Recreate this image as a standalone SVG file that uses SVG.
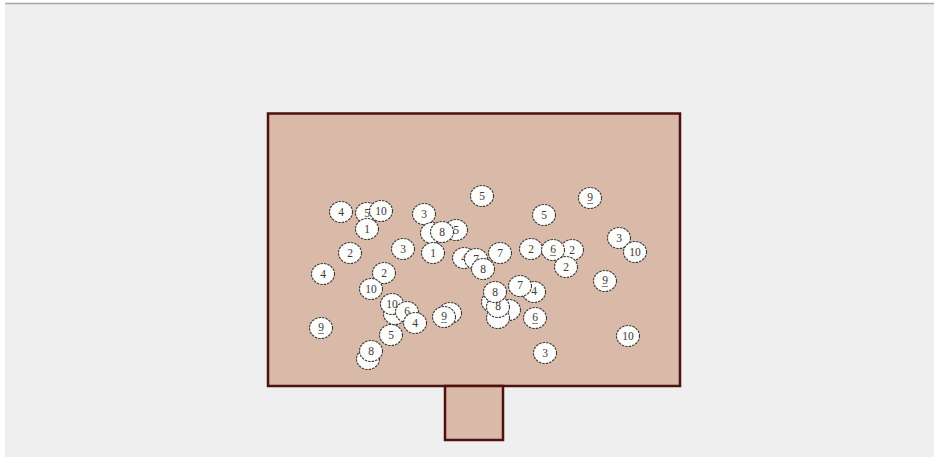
<svg xmlns="http://www.w3.org/2000/svg" width="934" height="457" viewBox="0 0 934 457">
<style>
.d ellipse{fill:#fdfdfb;stroke:#3a3a3a;stroke-width:1.1;stroke-dasharray:2.5 1}
.d text{font-family:"Liberation Serif","DejaVu Serif",serif;font-size:11.5px;fill:#3a3a3a;text-anchor:middle;dominant-baseline:central}
.u{stroke:#666;stroke-width:0.8}
</style>
<rect x="0" y="0" width="934" height="457" fill="#ffffff"/>
<rect x="5" y="3" width="929" height="454" fill="#efefef"/>
<line x1="5" y1="3.5" x2="934" y2="3.5" stroke="#a8a8a8" stroke-width="1.5"/>
<g id="box">
<rect x="268" y="113.5" width="412" height="272.5" fill="#d9b9a7" stroke="#4e1010" stroke-width="2.5"/>
<rect x="445" y="386" width="58" height="54" fill="#d9b9a7" stroke="#4e1010" stroke-width="2.5"/>
</g>
<g id="disks" class="d">
<g><ellipse cx="341" cy="212" rx="11.5" ry="10.5"/><text x="341" y="212">4</text></g>
<g><ellipse cx="367" cy="213" rx="11.5" ry="10.5"/><text x="367" y="213">5</text></g>
<g><ellipse cx="381" cy="211" rx="11.5" ry="10.5"/><text x="381" y="211">10</text></g>
<g><ellipse cx="367" cy="229" rx="11.5" ry="10.5"/><text x="367" y="229">1</text></g>
<g><ellipse cx="424" cy="214" rx="11.5" ry="10.5"/><text x="424" y="214">3</text></g>
<g><ellipse cx="482" cy="196" rx="11.5" ry="10.5"/><text x="482" y="196">5</text></g>
<g><ellipse cx="544" cy="215" rx="11.5" ry="10.5"/><text x="544" y="215">5</text></g>
<g><ellipse cx="590" cy="198" rx="11.5" ry="10.5"/><text x="590" y="197">9</text><line class="u" x1="587" y1="203.5" x2="593" y2="203.5"/></g>
<g><ellipse cx="432" cy="233" rx="11.5" ry="10.5"/></g>
<g><ellipse cx="456" cy="230" rx="11.5" ry="10.5"/><text x="456" y="230">5</text></g>
<g><ellipse cx="442" cy="232" rx="11.5" ry="10.5"/><text x="442" y="232">8</text></g>
<g><ellipse cx="350" cy="253" rx="11.5" ry="10.5"/><text x="350" y="253">2</text></g>
<g><ellipse cx="403" cy="249" rx="11.5" ry="10.5"/><text x="403" y="249">3</text></g>
<g><ellipse cx="433" cy="253" rx="11.5" ry="10.5"/><text x="433" y="253">1</text></g>
<g><ellipse cx="464" cy="258" rx="11.5" ry="10.5"/><text x="464" y="258">4</text></g>
<g><ellipse cx="476" cy="259" rx="11.5" ry="10.5"/><text x="476" y="259">7</text></g>
<g><ellipse cx="483" cy="269" rx="11.5" ry="10.5"/><text x="483" y="269">8</text></g>
<g><ellipse cx="500" cy="253" rx="11.5" ry="10.5"/><text x="500" y="253">7</text></g>
<g><ellipse cx="531" cy="249" rx="11.5" ry="10.5"/><text x="531" y="249">2</text></g>
<g><ellipse cx="572" cy="250" rx="11.5" ry="10.5"/><text x="572" y="250">2</text></g>
<g><ellipse cx="553" cy="250" rx="11.5" ry="10.5"/><text x="553" y="249">6</text><line class="u" x1="550" y1="255.5" x2="556" y2="255.5"/></g>
<g><ellipse cx="566" cy="267" rx="11.5" ry="10.5"/><text x="566" y="267">2</text></g>
<g><ellipse cx="619" cy="238" rx="11.5" ry="10.5"/><text x="619" y="238">3</text></g>
<g><ellipse cx="635" cy="252" rx="11.5" ry="10.5"/><text x="635" y="252">10</text></g>
<g><ellipse cx="323" cy="274" rx="11.5" ry="10.5"/><text x="323" y="274">4</text></g>
<g><ellipse cx="384" cy="273" rx="11.5" ry="10.5"/><text x="384" y="273">2</text></g>
<g><ellipse cx="605" cy="281" rx="11.5" ry="10.5"/><text x="605" y="280">9</text><line class="u" x1="602" y1="286.5" x2="608" y2="286.5"/></g>
<g><ellipse cx="371" cy="289" rx="11.5" ry="10.5"/><text x="371" y="289">10</text></g>
<g><ellipse cx="395" cy="314" rx="11.5" ry="10.5"/></g>
<g><ellipse cx="392" cy="304" rx="11.5" ry="10.5"/><text x="392" y="304">10</text></g>
<g><ellipse cx="407" cy="312" rx="11.5" ry="10.5"/><text x="407" y="311">6</text></g>
<g><ellipse cx="415" cy="323" rx="11.5" ry="10.5"/><text x="415" y="323">4</text></g>
<g><ellipse cx="450" cy="313" rx="11.5" ry="10.5"/></g>
<g><ellipse cx="444" cy="317" rx="11.5" ry="10.5"/><text x="444" y="316">9</text><line class="u" x1="441" y1="322.5" x2="447" y2="322.5"/></g>
<g><ellipse cx="321" cy="328" rx="11.5" ry="10.5"/><text x="321" y="327">9</text><line class="u" x1="318" y1="333.5" x2="324" y2="333.5"/></g>
<g><ellipse cx="391" cy="335" rx="11.5" ry="10.5"/><text x="391" y="335">5</text></g>
<g><ellipse cx="368" cy="359" rx="11.5" ry="10.5"/></g>
<g><ellipse cx="371" cy="351" rx="11.5" ry="10.5"/><text x="371" y="351">8</text></g>
<g><ellipse cx="509" cy="310" rx="11.5" ry="10.5"/></g>
<g><ellipse cx="498" cy="318" rx="11.5" ry="10.5"/></g>
<g><ellipse cx="493" cy="302" rx="11.5" ry="10.5"/></g>
<g><ellipse cx="498" cy="307" rx="11.5" ry="10.5"/><text x="498" y="306">8</text></g>
<g><ellipse cx="495" cy="292" rx="11.5" ry="10.5"/><text x="495" y="292">8</text></g>
<g><ellipse cx="534" cy="292" rx="11.5" ry="10.5"/><text x="534" y="291">4</text></g>
<g><ellipse cx="520" cy="286" rx="11.5" ry="10.5"/><text x="520" y="285">7</text></g>
<g><ellipse cx="535" cy="318" rx="11.5" ry="10.5"/><text x="535" y="317">6</text><line class="u" x1="532" y1="323.5" x2="538" y2="323.5"/></g>
<g><ellipse cx="628" cy="336" rx="11.5" ry="10.5"/><text x="628" y="336">10</text></g>
<g><ellipse cx="545" cy="353" rx="11.5" ry="10.5"/><text x="545" y="353">3</text></g>
</g>
</svg>
